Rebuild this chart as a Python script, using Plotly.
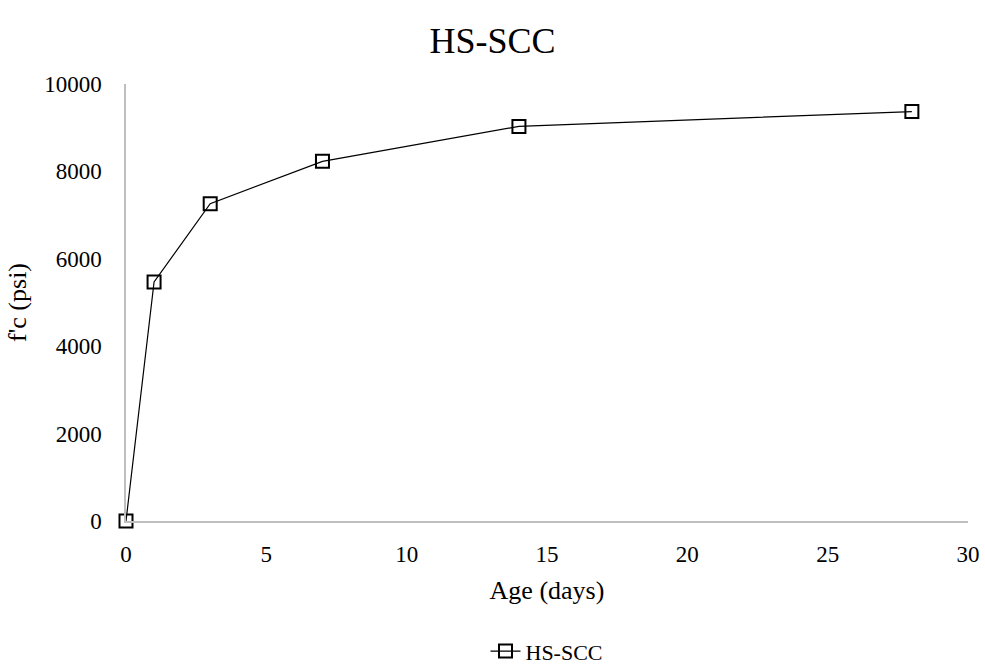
import plotly.graph_objects as go

age_days = [0, 1, 3, 7, 14, 28]
fc_psi = [0, 5470, 7260, 8230, 9030, 9370]
x_ticks = [0, 5, 10, 15, 20, 25, 30]
y_ticks = [0, 2000, 4000, 6000, 8000, 10000]
y_tick_text = ["0", "2000", "4000", "6000", "8000", "10000"]

FONT = "Liberation Serif, Times New Roman, serif"

fig = go.Figure()
fig.add_trace(go.Scatter(
    x=age_days, y=fc_psi, mode="lines+markers", name="HS-SCC",
    line=dict(color="black", width=1.2),
    marker=dict(symbol="square-open", size=13, color="black", line=dict(width=2, color="black")),
    cliponaxis=False,
))
fig.update_layout(
    width=985, height=669,
    paper_bgcolor="white", plot_bgcolor="white",
    margin=dict(l=126, r=17, t=84, b=148, autoexpand=False),
    font=dict(family=FONT, size=23, color="black"),
    title=dict(text="HS-SCC", x=0.5, xanchor="center", y=0.94, yanchor="middle",
               font=dict(family=FONT, size=36, color="black")),
    showlegend=True,
    legend=dict(orientation="h", x=0.5, xanchor="center", y=-0.298, yanchor="middle",
                font=dict(family=FONT, size=22, color="black")),
)
fig.update_xaxes(
    range=[0, 30], tickvals=x_ticks, showgrid=False, zeroline=False,
    showline=True, linecolor="#bfbfbf", linewidth=1.5, automargin=False,
    ticks="", ticklabelstandoff=12,
    title=dict(text="Age (days)", font=dict(family=FONT, size=26), standoff=14),
)
fig.update_yaxes(
    range=[0, 10000], tickvals=y_ticks, ticktext=y_tick_text, showgrid=False, zeroline=False,
    showline=True, linecolor="#bfbfbf", linewidth=1.5, automargin=False,
    ticks="", ticklabelstandoff=18,
    title=dict(text="f'c (psi)", font=dict(family=FONT, size=26), standoff=10),
)
fig.write_html("out.html", config={"displayModeBar": False},
               post_script="document.body.style.margin='0';")
